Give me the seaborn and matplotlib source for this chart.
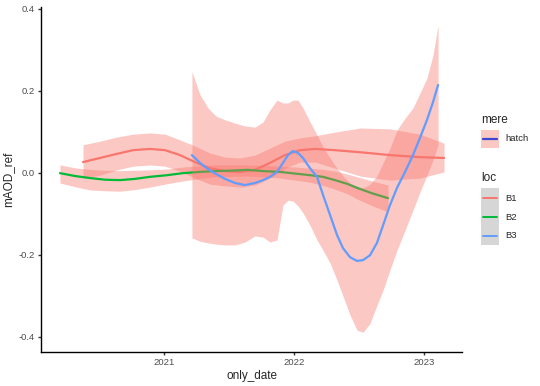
import matplotlib
matplotlib.use('Agg')
import matplotlib.pyplot as plt
import numpy as np
import pandas as pd
import seaborn as sns
from matplotlib.lines import Line2D
from matplotlib.patches import Rectangle

# ------------------------------------------------------------
#  loess fits per location
#  (decimal year, fitted mAOD_ref, lower / upper band)
# ------------------------------------------------------------
LOCS = ['B1', 'B2', 'B3']
LOC_COLORS = {'B1': '#F8766D', 'B2': '#00BA38', 'B3': '#619CFF'}
MERE = 'hatch'
MERE_FILL = '#F8766D'
MERE_KEY_LINE = '#3A48CF'

B1_DATE = [2020.377, 2020.508, 2020.638, 2020.762, 2020.892, 2021.008, 2021.123, 2021.238,
           2021.354, 2021.469, 2021.585, 2021.700, 2021.815, 2021.931, 2022.046, 2022.162,
           2022.315, 2022.508, 2022.738, 2022.969, 2023.154]
B1_FIT = [0.026, 0.036, 0.046, 0.055, 0.058, 0.055, 0.043, 0.026,
          0.011, 0.004, 0.002, 0.007, 0.024, 0.043, 0.055, 0.058,
          0.055, 0.050, 0.043, 0.038, 0.036]
B1_LO = [-0.013, -0.006, 0.007, 0.016, 0.019, 0.016, 0.004, -0.013,
         -0.028, -0.032, -0.035, -0.030, -0.013, 0.011, 0.026, 0.026,
         0.011, -0.008, -0.018, -0.013, 0.002]
B1_HI = [0.068, 0.077, 0.087, 0.094, 0.097, 0.094, 0.080, 0.065,
         0.048, 0.038, 0.036, 0.043, 0.060, 0.077, 0.085, 0.090,
         0.099, 0.109, 0.107, 0.094, 0.072]

B2_DATE = [2020.200, 2020.315, 2020.431, 2020.546, 2020.662, 2020.777, 2020.892, 2021.023,
           2021.146, 2021.277, 2021.392, 2021.508, 2021.638, 2021.762, 2021.892, 2022.008,
           2022.123, 2022.223, 2022.315, 2022.408, 2022.485, 2022.600, 2022.723]
B2_FIT = [-0.001, -0.008, -0.013, -0.017, -0.018, -0.015, -0.010, -0.006,
          -0.001, 0.002, 0.004, 0.005, 0.007, 0.004, 0.002, -0.002,
          -0.006, -0.010, -0.018, -0.027, -0.037, -0.050, -0.062]
B2_LO = [-0.025, -0.034, -0.042, -0.044, -0.045, -0.041, -0.035, -0.027,
         -0.020, -0.014, -0.010, -0.009, -0.008, -0.010, -0.013, -0.018,
         -0.023, -0.031, -0.040, -0.051, -0.064, -0.080, -0.096]
B2_HI = [0.019, 0.012, 0.008, 0.006, 0.005, 0.006, 0.007, 0.009,
         0.014, 0.017, 0.019, 0.019, 0.019, 0.018, 0.016, 0.014,
         0.011, 0.008, 0.004, -0.003, -0.010, -0.020, -0.030]

B3_DATE = [2021.215, 2021.277, 2021.338, 2021.400, 2021.469, 2021.546, 2021.623, 2021.700,
           2021.762, 2021.815, 2021.869, 2021.915, 2021.954, 2021.992, 2022.031, 2022.069,
           2022.123, 2022.177, 2022.223, 2022.277, 2022.331, 2022.377, 2022.431, 2022.485,
           2022.531, 2022.585, 2022.638, 2022.685, 2022.738, 2022.792, 2022.854, 2022.915,
           2022.969, 2023.023, 2023.069, 2023.108]
B3_FIT = [0.043, 0.024, 0.009, -0.003, -0.015, -0.025, -0.030, -0.025,
          -0.018, -0.010, 0.002, 0.024, 0.043, 0.053, 0.048, 0.036,
          0.011, -0.010, -0.054, -0.103, -0.152, -0.184, -0.206, -0.215,
          -0.213, -0.201, -0.171, -0.128, -0.079, -0.037, 0.002, 0.043,
          0.085, 0.129, 0.172, 0.214]
B3_LO = [-0.159, -0.167, -0.171, -0.174, -0.176, -0.176, -0.169, -0.154,
         -0.157, -0.169, -0.164, -0.079, -0.067, -0.069, -0.081, -0.098,
         -0.128, -0.164, -0.189, -0.220, -0.262, -0.301, -0.347, -0.384,
         -0.389, -0.367, -0.323, -0.286, -0.237, -0.189, -0.140, -0.091,
         -0.047, -0.006, 0.031, 0.068]
B3_HI = [0.246, 0.190, 0.158, 0.138, 0.129, 0.121, 0.114, 0.111,
         0.124, 0.153, 0.177, 0.170, 0.170, 0.177, 0.177, 0.158,
         0.124, 0.092, 0.063, 0.036, 0.011, -0.008, -0.025, -0.035,
         -0.037, -0.028, -0.008, 0.024, 0.060, 0.104, 0.133, 0.158,
         0.194, 0.231, 0.287, 0.360]

X_TICKS = [2021, 2022, 2023]
Y_TICKS = [-0.4, -0.2, 0.0, 0.2, 0.4]

W, H = 540, 386


def _fx(px):
    return px / W


def _fy(py):
    return 1 - py / H


def build_frame() -> pd.DataFrame:
    parts = []
    series = {
        'B1': (B1_DATE, B1_FIT, B1_LO, B1_HI),
        'B2': (B2_DATE, B2_FIT, B2_LO, B2_HI),
        'B3': (B3_DATE, B3_FIT, B3_LO, B3_HI),
    }
    for loc, (d, f, lo, hi) in series.items():
        parts.append(pd.DataFrame({'only_date': d, 'mAOD_ref': f, 'lo': lo, 'hi': hi,
                                   'loc': loc, 'mere': MERE}))
    return pd.concat(parts, ignore_index=True)


def draw_legend(fig: plt.Figure) -> None:
    # mere (fill) legend
    fig.text(_fx(481), _fy(120), 'mere', fontsize=8.5, va='center', ha='left')
    fig.add_artist(Rectangle((_fx(481), _fy(148)), 18 / W, 18 / H, transform=fig.transFigure,
                             facecolor=MERE_FILL, alpha=0.4, edgecolor='none'))
    fig.add_artist(Line2D([_fx(483), _fx(497)], [_fy(139)] * 2, transform=fig.transFigure,
                          color=MERE_KEY_LINE, lw=1.6))
    fig.text(_fx(505), _fy(139), MERE, fontsize=6.8, va='center', ha='left')

    # loc (colour) legend
    fig.text(_fx(481), _fy(178), 'loc', fontsize=8.5, va='center', ha='left')
    fig.add_artist(Rectangle((_fx(481), _fy(245)), 18 / W, 57 / H, transform=fig.transFigure,
                             facecolor='#D6D6D6', edgecolor='none'))
    for i, loc in enumerate(LOCS):
        y = 198 + 19 * i
        fig.add_artist(Line2D([_fx(483), _fx(497)], [_fy(y)] * 2, transform=fig.transFigure,
                              color=LOC_COLORS[loc], lw=1.4))
        fig.text(_fx(505), _fy(y), loc, fontsize=6.8, va='center', ha='left')


def main() -> None:
    df = build_frame()

    sns.set_style('ticks')
    plt.rcParams['font.family'] = ['Liberation Sans', 'DejaVu Sans']
    plt.rcParams['axes.unicode_minus'] = False

    fig = plt.figure(figsize=(W / 100, H / 100), dpi=100)
    ax = fig.add_axes([_fx(41), _fy(352), (462 - 41) / W, (352 - 7) / H])

    # ribbon then line per group, like geom_smooth draws them
    for i, loc in enumerate(LOCS):
        sub = df[df['loc'] == loc]
        ax.fill_between(sub['only_date'], sub['lo'], sub['hi'], color=MERE_FILL, alpha=0.4,
                        linewidth=0, zorder=2 + 2 * i)
        sns.lineplot(data=sub, x='only_date', y='mAOD_ref', color=LOC_COLORS[loc], lw=1.6,
                     ax=ax, zorder=3 + 2 * i, legend=False)

    ax.set_xlim(2020.054, 2023.292)
    ax.set_ylim(-0.437, 0.404)
    ax.set_xticks(X_TICKS)
    ax.set_xticklabels([str(t) for t in X_TICKS])
    ax.set_yticks(Y_TICKS)
    ax.set_yticklabels([f'{t:.1f}' for t in Y_TICKS])

    sns.despine(ax=ax)
    for side in ('left', 'bottom'):
        ax.spines[side].set_linewidth(1.0)
        ax.spines[side].set_color('black')
    ax.tick_params(length=2.5, width=1.0, color='#333333', labelcolor='#4D4D4D',
                   labelsize=6.8, pad=2)
    ax.set_xlabel('only_date', fontsize=8.5, labelpad=2)
    ax.set_ylabel('mAOD_ref', fontsize=8.5, labelpad=3)

    draw_legend(fig)
    fig.savefig('out.png', dpi=100)
    plt.close(fig)


if __name__ == '__main__':
    main()
